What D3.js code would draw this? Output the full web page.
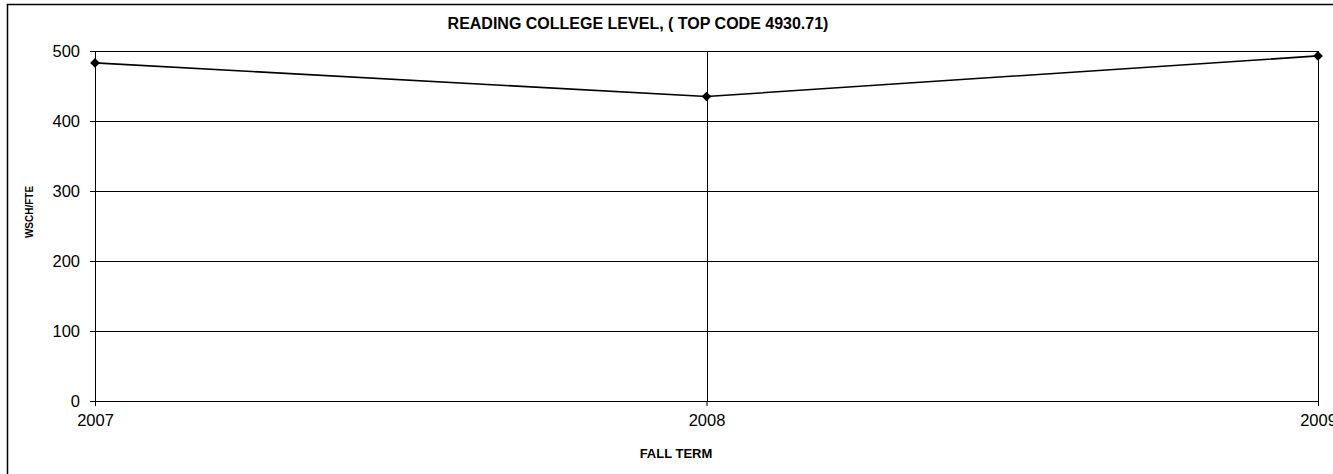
<!DOCTYPE html>
<meta charset="utf-8">
<style>
body { margin: 0; background: #fff; }
svg { display: block; font-family: "Liberation Sans", Arial, sans-serif; }
.axis .domain { display: none; }
.axis text { font-size: 16.5px; fill: #000; }
.axis line { stroke: #000; }
.grid line { stroke: #000; stroke-width: 1px; shape-rendering: crispEdges; }
.grid .domain { display: none; }
.data-line { fill: none; stroke: #000; stroke-width: 1.6px; }
.title { font-weight: bold; font-size: 16px; text-anchor: middle; }
.axis-title { font-weight: bold; text-anchor: middle; }
</style>
<svg width="1333" height="474"></svg>
<script src="https://d3js.org/d3.v7.min.js"></script>
<script>
var years = ["2007", "2008", "2009"];
var wschFte = [483, 435, 493];
var yTicks = [0, 100, 200, 300, 400, 500];

var svg = d3.select("svg"),
    margin = {top: 51, right: 15, bottom: 73, left: 95},
    width = +svg.attr("width") - margin.left - margin.right,
    height = +svg.attr("height") - margin.top - margin.bottom;

// chart frame (runs off the right and bottom edges)
svg.append("rect")
    .attr("x", 7.5).attr("y", 4.5)
    .attr("width", 1340).attr("height", 480)
    .attr("fill", "none").attr("stroke", "#000").attr("stroke-width", 1.5);

var g = svg.append("g").attr("transform", "translate(" + margin.left + "," + margin.top + ")");

var x = d3.scalePoint().domain(years).range([0, width]);
var y = d3.scaleLinear().domain([0, 500]).range([height, 0]);

// horizontal gridlines
g.append("g")
    .attr("class", "grid")
    .call(d3.axisLeft(y).tickValues(yTicks).tickSize(-width).tickFormat(""));

// vertical gridlines
g.append("g")
    .attr("class", "grid")
    .call(d3.axisBottom(x).tickSize(height).tickFormat(""));

g.append("g")
    .attr("class", "y-axis axis")
    .call(d3.axisLeft(y).tickValues(yTicks).tickSize(5).tickPadding(10));

g.append("g")
    .attr("class", "x-axis axis")
    .attr("transform", "translate(0," + height + ")")
    .call(d3.axisBottom(x).tickSize(5).tickPadding(8));

var line = d3.line()
    .x(function(d, i) { return x(years[i]); })
    .y(function(d) { return y(d); });

g.append("path")
    .datum(wschFte)
    .attr("class", "data-line")
    .attr("d", line);

g.selectAll(".marker")
    .data(wschFte)
  .enter().append("path")
    .attr("class", "marker")
    .attr("transform", function(d, i) { return "translate(" + x(years[i]) + "," + y(d) + ")"; })
    .attr("d", d3.symbol().type(d3.symbolDiamond2).size(60))
    .attr("fill", "#000");

svg.append("text")
    .attr("class", "title")
    .attr("x", 638).attr("y", 29)
    .text("READING COLLEGE LEVEL, ( TOP CODE 4930.71)");

svg.append("text")
    .attr("class", "axis-title")
    .attr("x", 676).attr("y", 458)
    .style("font-size", "13px")
    .text("FALL TERM");

svg.append("text")
    .attr("class", "axis-title")
    .attr("transform", "translate(33,212) rotate(-90)")
    .style("font-size", "10px")
    .text("WSCH/FTE");
</script>
